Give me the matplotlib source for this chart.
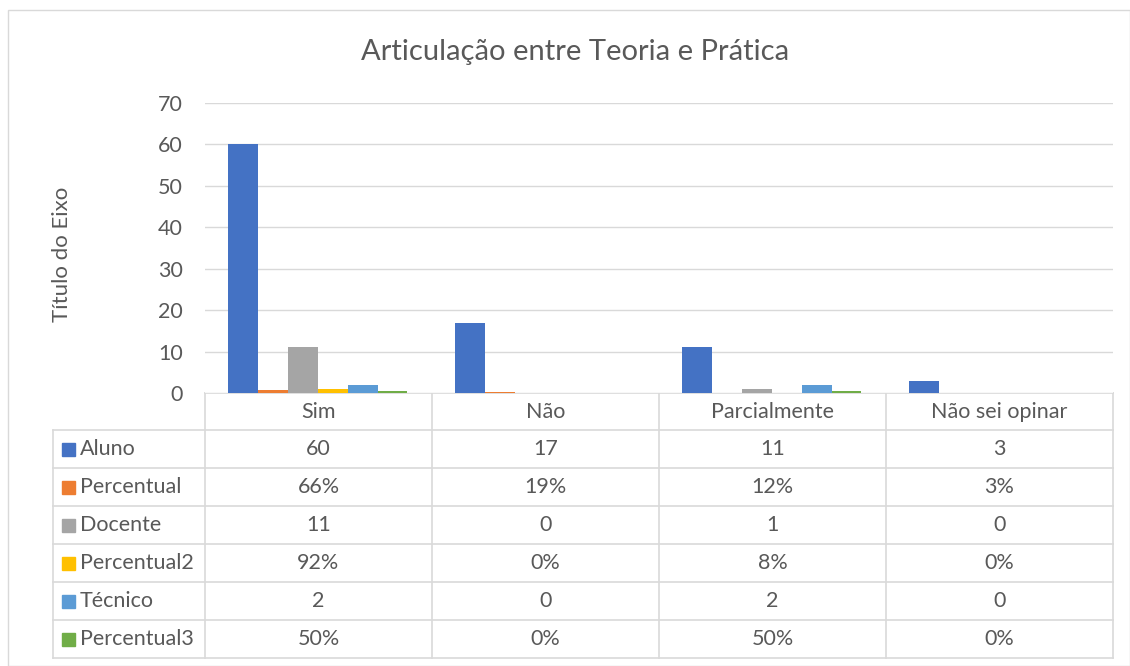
import matplotlib.pyplot as plt
import numpy as np
from matplotlib.patches import Rectangle

categorias = ['Sim', 'Não', 'Parcialmente', 'Não sei opinar']
series = ['Aluno', 'Percentual', 'Docente', 'Percentual2', 'Técnico', 'Percentual3']
aluno = [60, 17, 11, 3]
percentual = [0.66, 0.19, 0.12, 0.03]
docente = [11, 0, 1, 0]
percentual2 = [0.92, 0.0, 0.08, 0.0]
tecnico = [2, 0, 2, 0]
percentual3 = [0.50, 0.0, 0.50, 0.0]
eh_pct = [False, True, False, True, False, True]
cores = ['#4472C4', '#ED7D31', '#A5A5A5', '#FFC000', '#5B9BD5', '#70AD47']
valores = [aluno, percentual, docente, percentual2, tecnico, percentual3]

W, H = 1130, 666
plt.rcParams['font.family'] = ['Lato', 'DejaVu Sans']
fig = plt.figure(figsize=(W / 100, H / 100), dpi=100)
fs = 15.5

# eixo do gráfico (em pixels: x 205..1113, y 103..393)
x0, x1, y0, y1 = 205, 1113, 103, 393
ax = fig.add_axes([x0 / W, 1 - y1 / H, (x1 - x0) / W, (y1 - y0) / H])
n = len(categorias)
bw = 0.132
for j, (s, v) in enumerate(zip(series, valores)):
    xs = np.arange(n) + 0.1 + bw * j + bw / 2
    ax.bar(xs, v, width=bw, color=cores[j], zorder=3)
ax.set_xlim(0, n)
ax.set_ylim(0, 70)
ax.set_yticks(range(0, 71, 10))
ax.set_xticks([])
ax.grid(axis='y', color='#D9D9D9', lw=1, zorder=0)
for sp in ax.spines.values():
    sp.set_visible(False)
ax.tick_params(axis='y', length=0, labelsize=fs, labelcolor='#595959', pad=16)

# camada de sobreposição em pixels
ov = fig.add_axes([0, 0, 1, 1], zorder=-1)
ov.set_xlim(0, W)
ov.set_ylim(H, 0)
ov.axis('off')
ov.add_patch(Rectangle((8, 10), W - 8, H - 10, fill=False, ec='#D9D9D9', lw=1))

ov.text(575, 52, 'Articulação entre Teoria e Prática', ha='center', va='center',
        fontsize=21, color='#595959')
ov.text(62, 254, 'Título do Eixo', ha='center', va='center', rotation=90,
        fontsize=16, color='#595959')

# tabela de dados
lc = '#D9D9D9'
tx = '#595959'
col_x = np.linspace(x0, x1, n + 1)
row_top = 393
header_h = 37
row_h = 38
lab_x = 53
tab_bot = row_top + header_h + row_h * len(series)
# cabeçalho
ov.plot([x0, x1], [row_top, row_top], color=lc, lw=1.2)
for cx in col_x:
    ov.plot([cx, cx], [row_top, tab_bot], color=lc, lw=1.2)
for i, c in enumerate(categorias):
    ov.text((col_x[i] + col_x[i + 1]) / 2, row_top + header_h / 2, c,
            ha='center', va='center', fontsize=fs, color=tx)
# linhas
for r in range(len(series) + 1):
    yy = row_top + header_h + r * row_h
    ov.plot([lab_x, x1], [yy, yy], color=lc, lw=1.2)
ov.plot([lab_x, lab_x], [row_top + header_h, tab_bot], color=lc, lw=1.2)
for r, (s, v) in enumerate(zip(series, valores)):
    yc = row_top + header_h + r * row_h + row_h / 2
    ov.add_patch(Rectangle((62, yc - 6.5), 13, 13, color=cores[r]))
    ov.text(80, yc, s, ha='left', va='center', fontsize=fs, color=tx)
    for i, val in enumerate(v):
        t = f'{val * 100:.0f}%' if eh_pct[r] else f'{val}'
        ov.text((col_x[i] + col_x[i + 1]) / 2, yc, t, ha='center', va='center',
                fontsize=fs, color=tx)

fig.savefig('out.png', dpi=100)
